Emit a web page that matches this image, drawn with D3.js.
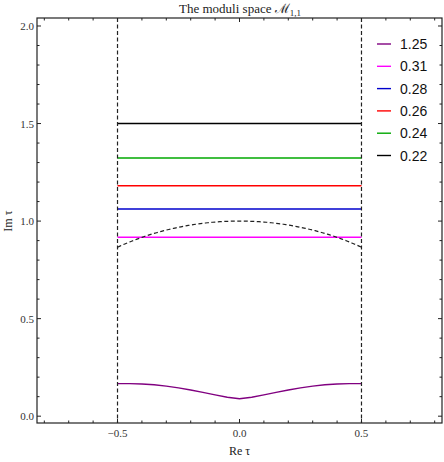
<!doctype html>
<html>
<head>
<meta charset="utf-8">
<title>The moduli space M11</title>
<style>
  body { margin: 0; background: #fff; }
  svg { display: block; }
  .tick-label { font-family: "Liberation Serif", "DejaVu Serif", serif; font-size: 11px; fill: #333; }
  .axis-title { font-family: "Liberation Serif", "DejaVu Serif", serif; font-size: 12px; fill: #222; }
  .legend-text { font-family: "Liberation Sans", Arial, sans-serif; font-size: 14px; fill: #111; }
</style>
</head>
<body>
<div id="chart"></div>
<script src="https://cdn.jsdelivr.net/npm/d3@7"></script>
<script>
// legend labels and line colours
var labels = ['1.25', '0.31', '0.28', '0.26', '0.24', '0.22'];
var colors = ['#800080', '#ff00ff', '#0000cc', '#ff0000', '#00a800', '#000000'];

// the flat curves: constant Im tau across the strip
var flatLevels = [0.917, 1.062, 1.181, 1.323, 1.5];

// the 1.25 curve, sampled by eye
var curveX = [-0.5, -0.45, -0.4, -0.35, -0.3, -0.25, -0.2, -0.15, -0.1, -0.05, 0,
              0.05, 0.1, 0.15, 0.2, 0.25, 0.3, 0.35, 0.4, 0.45, 0.5];
var curveY = [0.167, 0.167, 0.165, 0.161, 0.154, 0.145, 0.134, 0.122, 0.109, 0.097, 0.089,
              0.097, 0.109, 0.122, 0.134, 0.145, 0.154, 0.161, 0.165, 0.167, 0.167];

var xMajor = [-0.5, 0, 0.5];
var yMajor = [0, 0.5, 1, 1.5, 2];

(function() {
  var width = 444, height = 462;
  var left = 37, right = 442, top = 18, bottom = 423;

  var x = d3.scaleLinear().domain([-0.83, 0.83]).range([left, right]);
  var y = d3.scaleLinear().domain([-0.035, 2.041]).range([bottom, top]);

  var svg = d3.select('#chart').append('svg')
    .attr('width', width).attr('height', height);

  var plot = svg.append('g');

  // clip to frame
  svg.append('clipPath').attr('id', 'clip')
    .append('rect').attr('x', left).attr('y', top)
    .attr('width', right - left).attr('height', bottom - top);
  plot.attr('clip-path', 'url(#clip)');

  var line = d3.line().x(function(d) { return x(d[0]); }).y(function(d) { return y(d[1]); });

  // curves
  var series = [d3.zip(curveX, curveY)];
  flatLevels.forEach(function(v) { series.push([[-0.5, v], [0.5, v]]); });

  plot.selectAll('path.curve').data(series).enter()
    .append('path')
    .attr('class', 'curve')
    .attr('d', line)
    .attr('fill', 'none')
    .attr('stroke', function(d, i) { return colors[i]; })
    .attr('stroke-width', 1.4);

  // fundamental domain: vertical lines and unit arc
  [-0.5, 0.5].forEach(function(v) {
    plot.append('line')
      .attr('x1', x(v)).attr('x2', x(v))
      .attr('y1', top).attr('y2', bottom)
      .attr('stroke', '#222').attr('stroke-width', 1.2)
      .attr('stroke-dasharray', '4,2.5');
  });
  var arc = d3.range(-0.5, 0.5001, 0.01).map(function(t) { return [t, Math.sqrt(1 - t * t)]; });
  plot.append('path').attr('d', line(arc))
    .attr('fill', 'none').attr('stroke', '#222').attr('stroke-width', 1.2)
    .attr('stroke-dasharray', '4,2.5');

  // frame
  svg.append('rect').attr('x', left).attr('y', top)
    .attr('width', right - left).attr('height', bottom - top)
    .attr('fill', 'none').attr('stroke', '#222').attr('stroke-width', 1.2);

  // ticks (inside, all four sides)
  var fmt = d3.format('.1f');
  var ticks = svg.append('g').attr('stroke', '#222').attr('stroke-width', 1);
  var xt = d3.range(-8, 9).map(function(i) { return i / 10; });
  xt.forEach(function(v) {
    var major = xMajor.some(function(m) { return Math.abs(m - v) < 1e-9; });
    var len = major ? 4 : 2.5;
    ticks.append('line').attr('x1', x(v)).attr('x2', x(v)).attr('y1', bottom).attr('y2', bottom - len);
    ticks.append('line').attr('x1', x(v)).attr('x2', x(v)).attr('y1', top).attr('y2', top + len);
  });
  var yt = d3.range(0, 21).map(function(i) { return i / 10; });
  yt.forEach(function(v) {
    var major = yMajor.some(function(m) { return Math.abs(m - v) < 1e-9; });
    var len = major ? 4 : 2.5;
    ticks.append('line').attr('y1', y(v)).attr('y2', y(v)).attr('x1', left).attr('x2', left + len);
    ticks.append('line').attr('y1', y(v)).attr('y2', y(v)).attr('x1', right).attr('x2', right - len);
  });

  svg.selectAll('text.xl').data(xMajor).enter().append('text')
    .attr('class', 'tick-label')
    .attr('x', function(d) { return x(d); })
    .attr('y', bottom + 14)
    .attr('text-anchor', 'middle')
    .text(function(d) { return d < 0 ? '\u2212' + fmt(-d) : fmt(d); });

  svg.selectAll('text.yl').data(yMajor).enter().append('text')
    .attr('class', 'tick-label')
    .attr('x', left - 3)
    .attr('y', function(d) { return y(d) + 4; })
    .attr('text-anchor', 'end')
    .text(function(d) { return fmt(d); });

  // axis titles
  svg.append('text').attr('class', 'axis-title')
    .attr('x', x(0)).attr('y', 455).attr('text-anchor', 'middle')
    .text('Re \u03c4');
  svg.append('text').attr('class', 'axis-title')
    .attr('transform', 'translate(12,' + y(1) + ') rotate(-90)')
    .attr('text-anchor', 'middle')
    .text('Im \u03c4');

  // title
  var title = svg.append('text').attr('class', 'axis-title')
    .attr('x', 240).attr('y', 13).attr('text-anchor', 'middle')
    .style('font-size', '13px');
  title.append('tspan').text('The moduli space ');
  title.append('tspan').text('\u2133');
  title.append('tspan').attr('dy', 3).style('font-size', '9px').text('1,1');

  // legend
  var legend = svg.append('g').attr('transform', 'translate(377,44)');
  var items = legend.selectAll('g').data(labels).enter().append('g')
    .attr('transform', function(d, i) { return 'translate(0,' + (i * 22.3) + ')'; });
  items.append('line').attr('x1', 0).attr('x2', 14).attr('y1', 0).attr('y2', 0)
    .attr('stroke', function(d, i) { return colors[i]; }).attr('stroke-width', 1.4);
  items.append('text').attr('class', 'legend-text')
    .attr('x', 23).attr('y', 5).text(function(d) { return d; });
})();
</script>
</body>
</html>
